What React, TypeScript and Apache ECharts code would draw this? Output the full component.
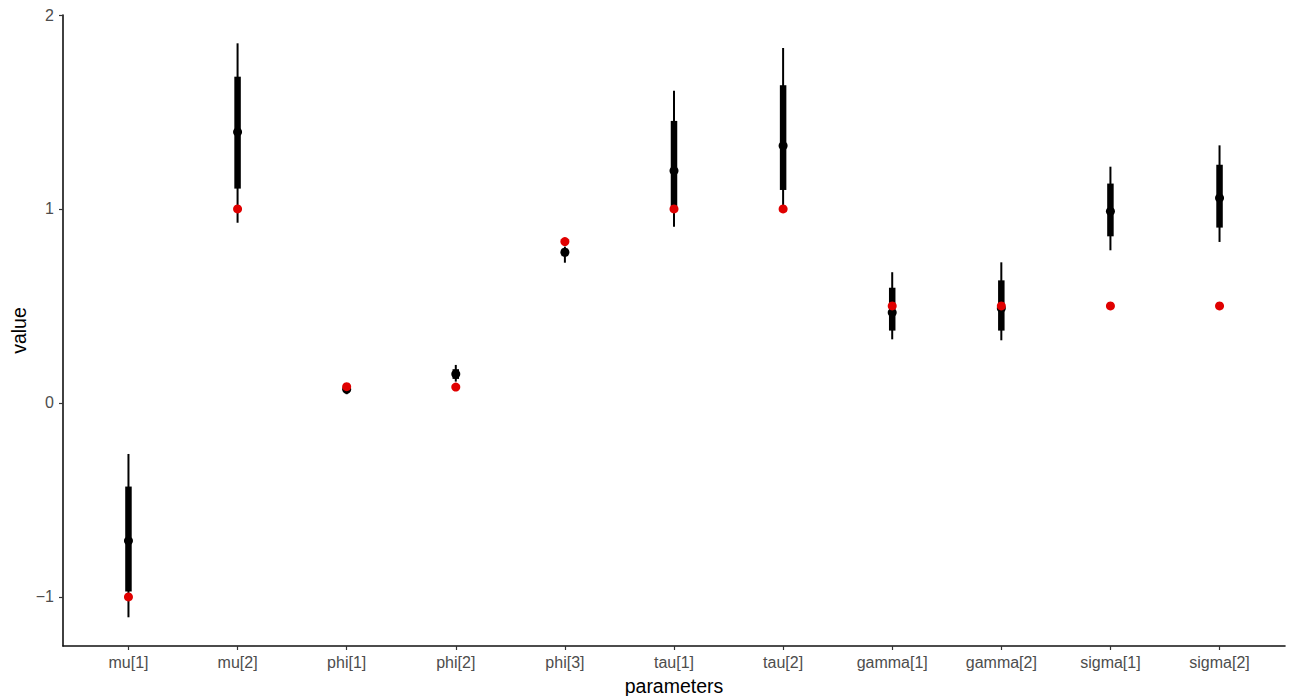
import React, { useEffect, useRef } from "react";
import * as echarts from "echarts";

// Parameter names along the x axis
const categories = [
  "mu[1]", "mu[2]", "phi[1]", "phi[2]", "phi[3]",
  "tau[1]", "tau[2]", "gamma[1]", "gamma[2]", "sigma[1]", "sigma[2]",
];

// Posterior summaries
const medians = [-0.711, 1.397, 0.07, 0.149, 0.777, 1.197, 1.326, 0.466, 0.488, 0.988, 1.057];
const innerLow = [-0.972, 1.105, 0.062, 0.124, 0.757, 1.012, 1.098, 0.373, 0.373, 0.859, 0.904];
const innerHigh = [-0.431, 1.682, 0.08, 0.174, 0.795, 1.454, 1.638, 0.594, 0.632, 1.131, 1.228];
const outerLow = [-1.105, 0.929, 0.045, 0.11, 0.723, 0.909, 0.99, 0.328, 0.323, 0.787, 0.83];
const outerHigh = [-0.263, 1.854, 0.09, 0.196, 0.806, 1.61, 1.83, 0.674, 0.725, 1.218, 1.328];

// True parameter values
const trueValues = [-1, 1, 0.084, 0.082, 0.832, 1, 1, 0.5, 0.5, 0.5, 0.5];

// Axis ticks
const yTicks = [-1, 0, 1, 2];
const xTicks = categories.map((_, i) => i);

const FONT = "'Liberation Sans', Arial, Helvetica, sans-serif";

// Plot panel edges in pixels
const PANEL = { left: 63, right: 1285, top: 15, bottom: 646 };

function intervalSeries(lo: number[], hi: number[], width: number, z: number) {
  return {
    type: "custom",
    z,
    data: lo.map((l, i) => [i, l, hi[i]]),
    encode: { x: 0, y: [1, 2] },
    renderItem: (_params: any, api: any) => {
      const x = api.value(0);
      const p1 = api.coord([x, api.value(1)]);
      const p2 = api.coord([x, api.value(2)]);
      return {
        type: "line",
        shape: { x1: p1[0], y1: p1[1], x2: p2[0], y2: p2[1] },
        style: { stroke: "#000", lineWidth: width, lineCap: "butt" },
      };
    },
  };
}

export default function App() {
  const ref = useRef<HTMLDivElement>(null);

  useEffect(() => {
    if (!ref.current) return;
    const chart = echarts.init(ref.current, null, { renderer: "svg" });
    chart.setOption({
      animation: false,
      backgroundColor: "#ffffff",
      grid: {
        left: PANEL.left,
        right: 1290 - PANEL.right,
        top: PANEL.top,
        bottom: 696 - PANEL.bottom,
        containLabel: false,
        outerBoundsMode: "none",
      },
      graphic: [
        {
          type: "text",
          x: (PANEL.left + PANEL.right) / 2,
          y: 686,
          style: {
            text: "parameters",
            fill: "#000",
            font: `19.5px ${FONT}`,
            textAlign: "center",
            textVerticalAlign: "middle",
          },
        },
        {
          type: "text",
          x: 19,
          y: (PANEL.top + PANEL.bottom) / 2,
          rotation: Math.PI / 2,
          style: {
            text: "value",
            fill: "#000",
            font: `19.5px ${FONT}`,
            textAlign: "center",
            textVerticalAlign: "middle",
          },
        },
      ],
      xAxis: {
        type: "value",
        min: -0.6,
        max: 10.6,
        splitLine: { show: false },
        axisLine: { show: true, onZero: false, lineStyle: { color: "#111", width: 1.6 } },
        axisTick: {
          show: true,
          length: 4,
          customValues: xTicks,
          lineStyle: { color: "#333", width: 1.2 },
        },
        axisLabel: {
          customValues: xTicks,
          color: "#4d4d4d",
          fontSize: 16,
          fontFamily: FONT,
          margin: 8,
          formatter: (v: number) => categories[Math.round(v)] ?? "",
        },
      },
      yAxis: {
        type: "value",
        min: -1.253,
        max: 2.0,
        splitLine: { show: false },
        axisLine: { show: true, onZero: false, lineStyle: { color: "#111", width: 1.6 } },
        axisTick: {
          show: true,
          length: 4,
          customValues: yTicks,
          lineStyle: { color: "#333", width: 1.2 },
        },
        axisLabel: {
          customValues: yTicks,
          color: "#4d4d4d",
          fontSize: 16,
          fontFamily: FONT,
          margin: 9,
          formatter: (v: number) => (v < 0 ? "\u2212" + Math.abs(v) : String(v)),
        },
      },
      series: [
        intervalSeries(outerLow, outerHigh, 2, 2),
        intervalSeries(innerLow, innerHigh, 6.5, 3),
        {
          type: "scatter",
          z: 4,
          symbol: "circle",
          symbolSize: 9,
          itemStyle: { color: "#000", opacity: 1 },
          data: medians.map((m, i) => [i, m]),
        },
        {
          type: "scatter",
          z: 5,
          symbol: "circle",
          symbolSize: 9,
          itemStyle: { color: "#e00000", opacity: 1 },
          data: trueValues.map((t, i) => [i, t]),
        },
      ],
    });
    return () => chart.dispose();
  }, []);

  return (
    <div
      ref={ref}
      style={{ position: "fixed", left: 0, top: 0, width: 1290, height: 696 }}
    />
  );
}
